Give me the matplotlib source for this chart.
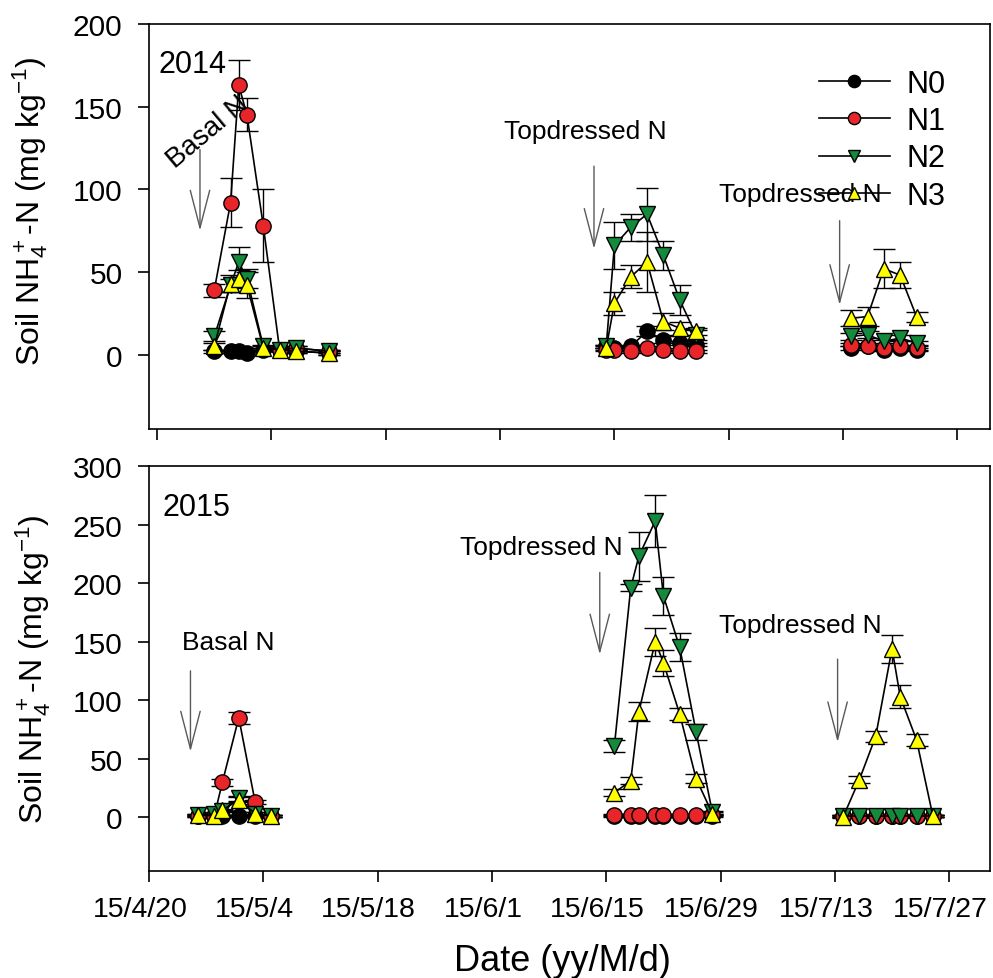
import matplotlib
matplotlib.use("Agg")
import matplotlib.pyplot as plt
import matplotlib.dates as mdates
from matplotlib.ticker import FuncFormatter
from matplotlib.transforms import ScaledTranslation
import numpy as np
import pandas as pd

plt.rcParams['font.family'] = ['Liberation Sans', 'DejaVu Sans']
plt.rcParams['mathtext.default'] = 'regular'

# ---- 2014 (top panel) ----
d14 = ['2014-04-28', '2014-04-30', '2014-05-01', '2014-05-02', '2014-05-04', '2014-05-06', '2014-05-08', '2014-05-12',
       '2014-06-15', '2014-06-16', '2014-06-18', '2014-06-20', '2014-06-22', '2014-06-24', '2014-06-26',
       '2014-07-15', '2014-07-17', '2014-07-19', '2014-07-21', '2014-07-23']
n0_14 = [2, 2, 2, 1, 3, 3, 2, 1, 5, 4, 5, 14, 9, 7, 6, 4, 5, 3, 4, 3]
n0_14_err = [1, 1, 1, 1, 1, 1, 1, 1, 1, 1, 1, 3, 2, 1, 1, 1, 1, 1, 1, 1]
n1_14 = [39, 92, 163, 145, 78, 3, 4, 2, 3, 3, 2, 4, 3, 2, 2, 6, 5, 4, 5, 4]
n1_14_err = [4, 15, 15, 10, 22, 1, 1, 1, 1, 1, 1, 1, 1, 1, 1, 1, 1, 1, 1, 1]
n2_14 = [11, 42, 56, 46, 5, 3, 4, 2, 5, 66, 77, 85, 60, 33, 12, 11, 12, 8, 10, 7]
n2_14_err = [3, 4, 9, 6, 1, 1, 1, 1, 1, 14, 8, 16, 9, 9, 3, 2, 2, 1, 2, 1]
n3_14 = [5, 43, 46, 42, 4, 3, 2, 1, 4, 31, 47, 56, 20, 16, 14, 22, 23, 52, 48, 23]
n3_14_err = [2, 5, 5, 8, 1, 1, 1, 1, 1, 7, 7, 18, 5, 4, 2, 5, 6, 12, 8, 3]

# ---- 2015 (bottom panel) ----
d15 = ['2015-04-26', '2015-04-28', '2015-04-29', '2015-05-01', '2015-05-03', '2015-05-05',
       '2015-06-16', '2015-06-18', '2015-06-19', '2015-06-21', '2015-06-22', '2015-06-24', '2015-06-26', '2015-06-28',
       '2015-07-14', '2015-07-16', '2015-07-18', '2015-07-20', '2015-07-21', '2015-07-23', '2015-07-25']
n0_15 = [1, 1, 1, 1, 1, 1, 1, 1, 1, 1, 1, 1, 1, 1, 1, 1, 1, 1, 1, 1, 1]
n0_15_err = [0.5] * 21
n1_15 = [1, 1, 30, 85, 13, 1, 2, 2, 2, 2, 2, 2, 2, 2, 1, 1, 1, 1, 1, 1, 1]
n1_15_err = [0.5, 0.5, 3, 5, 2, 0.5, 1, 1, 1, 1, 1, 1, 1, 1, 0.5, 0.5, 0.5, 0.5, 0.5, 0.5, 0.5]
n2_15 = [2, 3, 5, 16, 3, 1, 61, 196, 223, 253, 189, 145, 73, 4, 1, 1, 1, 1, 1, 1, 1]
n2_15_err = [1, 1, 1, 2, 1, 0.5, 5, 3, 21, 22, 16, 12, 7, 1, 0.5, 0.5, 0.5, 0.5, 0.5, 0.5, 0.5]
n3_15 = [2, 1, 6, 15, 3, 1, 21, 31, 90, 150, 132, 88, 33, 3, 0, 32, 69, 144, 103, 66, 1]
n3_15_err = [1, 1, 1, 2, 1, 0.5, 3, 3, 8, 12, 11, 5, 4, 1, 1, 3, 5, 12, 10, 5, 1]

labels = ['N0', 'N1', 'N2', 'N3']
markers = ['o', 'o', 'v', '^']
colors = ['#000000', '#e8262a', '#138a3c', '#ffff00']

# annotation texts / arrows: (text, date, y, rotation, size)
ann14 = [('Basal N', '2014-04-27 06:00', 135, 40, 20), ('Topdressed N', '2014-06-12 10:00', 135, 0, 19),
         ('Topdressed N', '2014-07-08 17:00', 97, 0, 19)]
arr14 = [('2014-04-26 06:00', 124, 75), ('2014-06-13 12:00', 114, 64), ('2014-07-13 14:00', 81, 30)]
ann15 = [('Basal N', '2015-04-29 16:00', 150, 0, 19), ('Topdressed N', '2015-06-07 02:00', 231, 0, 19),
         ('Topdressed N', '2015-07-08 19:00', 164, 0, 19)]
arr15 = [('2015-04-25 02:00', 125, 56), ('2015-06-14 05:00', 209, 139), ('2015-07-13 08:00', 135, 64)]


def draw_panel(ax, dates, series, errs, ylim, yticks, xlim, xticks, year_txt, year_pos, ann, arr, show_xlabels):
    x = np.array(pd.to_datetime(dates))
    handles = []
    for vals, err, lab, m, c in zip(series, errs, labels, markers, colors):
        vals = np.array(vals, dtype=float)
        err = np.array(err, dtype=float)
        # split into sampling periods (gap > 10 days)
        gaps = np.where(np.diff(x).astype('timedelta64[D]').astype(int) > 10)[0] + 1
        for idx in np.split(np.arange(len(x)), gaps):
            eb = ax.errorbar(x[idx], vals[idx], yerr=err[idx], fmt='-', marker=m, color='k', lw=1.2,
                             mfc=c, mec='k', mew=1, ms=11, ecolor='k', elinewidth=1, capsize=8, capthick=1.2)
        handles.append(eb[0])
    ax.set_ylim(*ylim)
    ax.set_yticks(yticks)
    ax.set_xlim(pd.Timestamp(xlim[0]), pd.Timestamp(xlim[1]))
    ax.set_xticks(pd.to_datetime(xticks))
    if show_xlabels:
        ax.xaxis.set_major_formatter(FuncFormatter(
            lambda v, p: '{}/{}/{}'.format(mdates.num2date(v).year % 100, mdates.num2date(v).month,
                                           mdates.num2date(v).day)))
    else:
        ax.set_xticklabels([])
    ax.tick_params(direction='out', length=8, width=1.2, top=False, right=False)
    ax.tick_params(axis='x', pad=10, labelsize=20.5)
    ax.tick_params(axis='y', pad=11, labelsize=21.5)
    for s in ax.spines.values():
        s.set_linewidth(1.2)
    ax.set_ylabel(r'Soil NH$_4^+$-N (mg kg$^{-1}$)', fontsize=23, labelpad=14)
    ax.text(pd.Timestamp(year_pos[0]), year_pos[1], year_txt, fontsize=22, va='center', ha='left')
    for txt, d, yv, rot, fs in ann:
        ax.text(pd.Timestamp(d), yv, txt, fontsize=fs, ha='center', va='center', rotation=rot)
    for d, y0, y1 in arr:
        ax.annotate('', xy=(pd.Timestamp(d), y1), xytext=(pd.Timestamp(d), y0),
                    arrowprops=dict(arrowstyle='->,head_length=2.7,head_width=0.7', color='0.35', lw=1,
                                    shrinkA=0, shrinkB=0))
    return handles


fig = plt.figure(figsize=(9.93, 9.79), dpi=100)
ax1 = fig.add_axes([0.150, 0.5608, 0.847, 0.4137])
ax2 = fig.add_axes([0.150, 0.1093, 0.847, 0.4137])

ticks14 = pd.date_range('2014-04-21', periods=8, freq='14D')
ticks15 = pd.date_range('2015-04-20', periods=8, freq='14D')

h = draw_panel(ax1, d14, [n0_14, n1_14, n2_14, n3_14], [n0_14_err, n1_14_err, n2_14_err, n3_14_err],
               (-45, 200), [0, 50, 100, 150, 200], ('2014-04-20', '2014-08-01'), ticks14,
               '2014', ('2014-04-21 05:00', 176), ann14, arr14, False)
draw_panel(ax2, d15, [n0_15, n1_15, n2_15, n3_15], [n0_15_err, n1_15_err, n2_15_err, n3_15_err],
           (-46, 300), [0, 50, 100, 150, 200, 250, 300], ('2015-04-20', '2015-08-01'), ticks15,
           '2015', ('2015-04-21 15:00', 265), ann15, arr15, True)

# date labels sit a little left of their ticks, as in the original
shift = ScaledTranslation(-9 / 100, 0, fig.dpi_scale_trans)
for lbl in ax2.get_xticklabels():
    lbl.set_transform(lbl.get_transform() + shift)

ax1.yaxis.set_label_coords(-0.118, 0.54)

ax1.legend(h, labels, loc='upper left', bbox_to_anchor=(0.797, 0.89), frameon=False, fontsize=22,
           borderpad=0, borderaxespad=0, handlelength=2.3, handletextpad=0.55, labelspacing=0.245,
           markerscale=0.8)

fig.text(562 / 993, 1 - 962 / 979, 'Date (yy/M/d)', fontsize=26, ha='center', va='center')

fig.savefig('out.png', dpi=100)
